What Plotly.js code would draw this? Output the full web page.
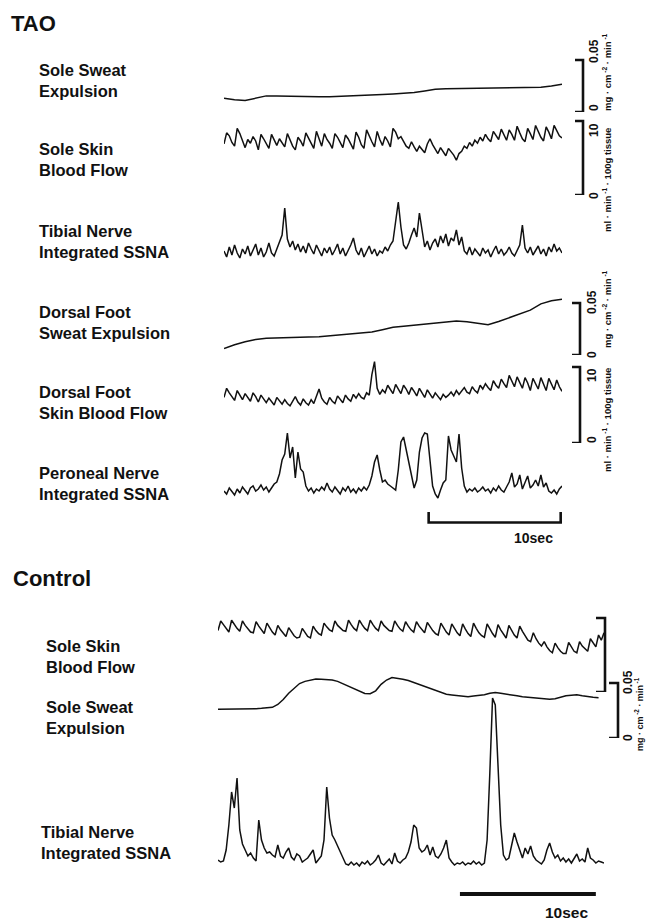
<!DOCTYPE html>
<html><head><meta charset="utf-8">
<script src="https://cdn.plot.ly/plotly-3.0.1.min.js"></script>
<style>html,body{margin:0;padding:0;background:#fff;}#chart{width:646px;height:920px;}</style>
</head><body><div id="chart"></div>
<script>
// ---------- DATA ----------
// sampling steps (s)
const taoFastStep = 0.2, taoSlowStep = 0.8, ctlFastStep = 0.2, ctlSlowStep = 0.4;

// TAO: sole sweat expulsion (mg·cm-2·min-1)
const taoSoleSweat = [0.0132,0.0117,0.0110,0.0130,0.0155,0.0154,0.0151,0.0149,0.0148,0.0147,
0.0147,0.0150,0.0154,0.0159,0.0163,0.0168,0.0173,0.0180,0.0187,0.0202,
0.0218,0.0223,0.0225,0.0226,0.0227,0.0227,0.0228,0.0229,0.0231,0.0235,
0.0238,0.0250,0.0266];
// TAO: sole skin blood flow (ml·min-1·100g tissue)
const taoSoleSBF = [6.9,8.4,8.0,7.1,6.6,9.0,8.3,7.4,6.4,7.5,
7.0,7.9,7.3,6.1,8.2,7.6,6.9,6.3,8.2,7.5,
6.7,7.6,7.1,6.5,8.3,7.4,6.6,6.1,7.8,7.3,
6.6,8.4,7.7,6.9,6.3,8.6,7.7,6.6,8.3,7.5,
7.0,6.3,8.3,7.8,7.1,6.4,8.1,7.6,6.9,6.2,
8.5,7.8,6.8,6.3,8.8,7.9,7.2,6.5,8.6,7.5,
6.7,7.9,7.3,6.5,9.0,8.5,7.6,7.9,7.2,6.6,
6.3,7.2,6.5,5.9,6.6,6.1,5.7,6.9,7.6,6.8,
6.2,5.6,6.4,5.8,5.3,6.3,5.9,5.4,4.7,5.6,
5.9,6.6,6.3,7.1,6.6,7.4,7.0,7.8,7.3,8.2,
7.6,7.2,8.6,8.0,7.5,8.9,8.1,7.4,8.8,8.2,
7.4,9.3,8.4,7.6,7.2,9.0,8.3,7.5,9.4,8.6,
7.8,7.3,9.2,8.5,7.6,9.4,8.7,8.0,7.7];
// TAO: tibial nerve integrated SSNA (a.u.)
const taoTibialSSNA = [14,8,18,10,20,12,7,16,11,19,
9,15,21,10,17,8,13,22,12,9,
16,24,30,57,26,18,24,15,21,13,
19,12,22,16,11,20,14,9,17,12,
18,10,15,21,11,17,9,14,20,27,
15,10,17,8,13,19,11,16,9,14,
12,18,14,20,24,42,63,38,20,16,
22,30,37,28,52,35,18,24,15,22,
26,18,29,22,31,19,27,24,35,20,
28,14,11,18,10,16,13,9,17,12,
15,8,14,19,11,16,10,13,18,12,
9,15,20,40,17,12,18,10,14,19,
11,16,9,18,13,21,14,17,12];
// TAO: dorsal foot sweat expulsion (mg·cm-2·min-1)
const taoDorsalSweat = [0.0062,0.0099,0.0128,0.0149,0.0162,0.0163,0.0166,0.0169,0.0172,0.0176,
0.0185,0.0193,0.0203,0.0212,0.0222,0.0243,0.0266,0.0276,0.0286,0.0299,
0.0313,0.0323,0.0327,0.0320,0.0303,0.0291,0.0322,0.0360,0.0391,0.0431,
0.0492,0.0521,0.0536];
// TAO: dorsal foot skin blood flow (ml·min-1·100g tissue)
const taoDorsalSBF = [6.0,7.2,6.6,6.1,5.6,6.9,6.3,5.7,6.5,6.0,
5.5,6.6,6.1,5.4,6.3,5.8,5.3,5.9,5.4,5.0,
6.0,5.5,5.1,5.7,5.2,4.9,5.6,6.1,5.4,5.0,
5.8,5.3,5.0,5.7,5.2,6.2,7.1,5.9,5.4,5.1,
6.0,5.5,5.2,6.2,5.7,5.3,6.3,5.8,5.5,6.4,
5.9,6.5,6.0,5.8,6.6,6.3,9.0,10.7,7.2,6.4,
7.0,6.6,7.6,7.1,6.5,7.7,7.0,6.5,7.6,7.1,
6.4,7.3,6.8,6.2,7.2,6.6,6.0,7.0,6.5,5.9,
6.6,6.1,5.7,6.4,6.0,6.3,6.7,6.2,6.9,6.4,
6.8,7.3,6.7,6.5,7.4,6.9,6.6,7.6,7.1,7.8,
7.3,6.9,8.2,7.6,7.2,8.4,7.8,7.3,8.9,8.1,
7.4,8.7,8.0,7.2,8.6,7.9,6.9,8.5,7.8,7.1,
8.6,7.7,6.9,8.5,7.8,7.0,8.3,7.4,6.8];
// TAO: peroneal nerve integrated SSNA (a.u.)
const taoPeronealSSNA = [9,6,12,8,5,11,7,13,9,6,
12,14,9,11,15,10,13,8,12,16,
18,26,40,46,67,42,53,22,48,31,
28,14,9,12,7,11,9,13,10,17,
11,8,13,10,6,12,9,14,8,11,
7,12,9,13,10,15,24,38,45,30,
18,20,16,14,12,10,30,58,63,50,
36,22,12,20,48,62,67,66,38,14,
6,2,10,17,20,64,50,44,38,66,
32,14,8,11,9,12,8,10,13,9,
11,7,12,9,14,10,8,13,18,27,
13,16,25,11,18,24,12,15,20,14,
25,13,17,9,7,10,6,11,14];

// Control: sole skin blood flow (ml·min-1·100g tissue)
const ctlSoleSBF = [8.3,9.6,9.1,8.6,8.1,9.7,9.1,8.6,8.2,9.6,
9.0,8.5,8.1,8.0,9.5,8.9,8.4,7.9,9.3,8.7,
8.1,7.7,9.0,8.4,7.9,7.5,8.7,8.1,7.6,7.3,
7.4,8.6,8.0,7.5,7.3,8.9,8.3,7.9,7.7,9.3,
8.8,8.4,8.2,9.6,9.0,8.6,8.3,8.2,9.7,9.1,
8.6,8.3,9.7,9.1,8.6,8.3,9.7,9.1,8.6,8.3,
9.6,9.0,8.6,8.3,8.2,9.6,9.0,8.5,8.2,9.5,
8.9,8.4,8.1,9.5,8.9,8.4,8.0,9.4,8.8,8.3,
7.9,7.7,9.3,8.7,8.1,7.7,9.2,8.6,8.0,7.6,
9.2,8.5,7.9,7.5,9.3,8.6,8.0,7.6,7.4,9.2,
8.5,7.9,7.4,9.1,8.4,7.8,7.3,9.0,8.3,7.7,
7.3,8.9,8.2,7.5,7.0,6.8,8.0,7.2,6.6,6.2,
6.8,6.1,5.6,5.3,6.6,6.0,5.5,5.2,5.2,6.7,
6.0,5.5,5.3,6.8,6.2,5.8,5.5,7.2,6.6,6.1,
7.7,7.0,8.0];
// Control: sole sweat expulsion (mg·cm-2·min-1)
const ctlSoleSweat = [0.0261,0.0261,0.0262,0.0263,0.0263,0.0264,0.0264,0.0267,0.0270,0.0273,
0.0279,0.0305,0.0350,0.0407,0.0453,0.0495,0.0515,0.0529,0.0536,0.0535,
0.0533,0.0528,0.0515,0.0492,0.0471,0.0450,0.0424,0.0405,0.0402,0.0429,
0.0488,0.0527,0.0550,0.0545,0.0534,0.0522,0.0505,0.0485,0.0467,0.0450,
0.0433,0.0414,0.0397,0.0392,0.0385,0.0380,0.0376,0.0382,0.0387,0.0394,
0.0407,0.0413,0.0406,0.0400,0.0393,0.0384,0.0374,0.0369,0.0364,0.0359,
0.0354,0.0352,0.0356,0.0369,0.0384,0.0389,0.0393,0.0384,0.0375,0.0371,
0.0367];
// Control: tibial nerve integrated SSNA (a.u.)
const ctlTibialSSNA = [10,8,9,20,45,78,62,92,40,26,
20,14,17,12,9,50,30,22,17,18,
15,13,25,14,12,18,22,13,10,16,
14,8,10,12,16,20,7,10,14,30,
83,52,35,30,24,18,12,6,5,8,
5,7,4,8,6,9,5,7,10,15,
7,5,8,11,6,17,9,7,10,12,
18,28,45,42,22,18,20,25,15,23,
14,12,16,22,30,12,8,5,7,6,
8,5,7,6,9,6,8,5,7,30,
97,172,165,97,45,15,10,12,24,37,
28,19,12,22,16,24,14,10,8,6,
10,20,27,18,12,15,9,12,8,11,
7,12,16,9,11,8,22,12,10,7,
9,8,7];

// scale-bar values and time bars
const sweatScale = [0, 0.05];      // mg·cm-2·min-1
const sbfScale = [0, 10];          // ml·min-1·100g tissue
const taoTimeBar = [15.5, 25.5];   // s
const ctlTimeBar = [17.8, 27.8];   // s
const labelsTAO = ["Sole Sweat<br>Expulsion","Sole Skin<br>Blood Flow","Tibial Nerve<br>Integrated SSNA",
  "Dorsal Foot<br>Sweat Expulsion","Dorsal Foot<br>Skin Blood Flow","Peroneal Nerve<br>Integrated SSNA"];
const labelsCtl = ["Sole Skin<br>Blood Flow","Sole Sweat<br>Expulsion","Tibial Nerve<br>Integrated SSNA"];

// ---------- LAYOUT HELPERS ----------
const W = 646, H = 920;
const PX = p => p / W;
const PY = p => 1 - p / H;
const dom = (top, bottom) => [PY(bottom), PY(top)];
const INK = '#111';
const FONT = 'Liberation Sans, Arial, Helvetica, sans-serif';

function tr(y, xa, ya, step) {
  return {type:'scatter', mode:'lines', x0:0, dx:step, y:y, xaxis:xa, yaxis:ya,
          line:{color:INK, width:1.5}, hoverinfo:'skip', showlegend:false};
}
const data = [
  tr(taoSoleSweat,'x','y',taoSlowStep),
  tr(taoSoleSBF,'x','y2',taoFastStep),
  tr(taoTibialSSNA,'x','y3',taoFastStep),
  tr(taoDorsalSweat,'x','y4',taoSlowStep),
  tr(taoDorsalSBF,'x','y5',taoFastStep),
  tr(taoPeronealSSNA,'x','y6',taoFastStep),
  tr(ctlSoleSBF,'x2','y7',ctlFastStep),
  tr(ctlSoleSweat,'x2','y8',ctlSlowStep),
  tr(ctlTibialSSNA,'x2','y9',ctlFastStep)
];

const hid = (o) => Object.assign({visible:false, fixedrange:true, showgrid:false, zeroline:false}, o);

const layout = {
  width:W, height:H, margin:{l:0,r:0,t:0,b:0}, showlegend:false,
  paper_bgcolor:'#fff', plot_bgcolor:'rgba(0,0,0,0)',
  font:{family:FONT, color:INK},
  xaxis: hid({domain:[PX(224),PX(562)], range:[0,25.6], anchor:'y'}),
  xaxis2: hid({domain:[PX(218),PX(604)], range:[0,28.4], anchor:'y7'}),
  yaxis:  hid({domain:dom(49.6,112), range:[0,0.06], anchor:'x'}),
  yaxis2: hid({domain:dom(113.6,195), range:[0,11], anchor:'x'}),
  yaxis3: hid({domain:dom(195,265), range:[0,70], anchor:'x'}),
  yaxis4: hid({domain:dom(287.4,355), range:[0,0.065], anchor:'x'}),
  yaxis5: hid({domain:dom(355.6,443), range:[0,11.5], anchor:'x'}),
  yaxis6: hid({domain:dom(425,500), range:[0,75], anchor:'x'}),
  yaxis7: hid({domain:dom(610.6,692), range:[0,11], anchor:'x2'}),
  yaxis8: hid({domain:dom(672,738), range:[0,0.06], anchor:'x2'}),
  yaxis9: hid({domain:dom(690,870), range:[0,180], anchor:'x2'}),
  shapes:[], annotations:[]
};

function bracket(yref, barPx, tickPx, v) {
  const xb = PX(barPx), xt = PX(tickPx);
  layout.shapes.push({type:'path', xref:'paper', yref:yref,
    path:`M${xt},${v[1]} L${xb},${v[1]} L${xb},${v[0]} L${xt},${v[0]}`,
    line:{color:INK, width:2.6}});
}
bracket('y', 583, 575, sweatScale);
bracket('y2', 583, 575, sbfScale);
bracket('y4', 580, 572, sweatScale);
bracket('y5', 580, 572, sbfScale);
bracket('y7', 605, 596, sbfScale);
bracket('y8', 618, 609, sweatScale);

// time bars
layout.shapes.push({type:'path', xref:'x', yref:'paper',
  path:`M${taoTimeBar[0]},${PY(512)} L${taoTimeBar[0]},${PY(522.5)} L${taoTimeBar[1]},${PY(522.5)} L${taoTimeBar[1]},${PY(512)}`,
  line:{color:INK, width:2.6}});
layout.shapes.push({type:'line', xref:'x2', yref:'paper', x0:ctlTimeBar[0], x1:ctlTimeBar[1],
  y0:PY(894), y1:PY(894), line:{color:INK, width:4}});

function txt(text, xpx, ypx, size, opts) {
  layout.annotations.push(Object.assign({text:text, x:PX(xpx), y:PY(ypx), xref:'paper', yref:'paper',
    showarrow:false, xanchor:'left', yanchor:'middle', align:'left',
    font:{family:FONT, size:size, color:INK, weight:700}}, opts||{}));
}
txt('TAO', 9, 23, 22);
txt('Control', 11, 578, 22);
const taoLabelY = [80.5, 159.5, 241, 322, 402, 484];
labelsTAO.forEach((t,i) => txt(t, 36.5, taoLabelY[i], 16.5));
const ctlLabelX = [44, 44, 39], ctlLabelY = [656, 717.5, 842];
labelsCtl.forEach((t,i) => txt(t, ctlLabelX[i], ctlLabelY[i], 16.5));
txt('10sec', 533.5, 538, 14, {xanchor:'center'});
txt('10sec', 566.5, 912.5, 15.5, {xanchor:'center'});

// rotated scale labels
function rot(text, xpx, ypx, size) {
  txt(text, xpx, ypx, size, {textangle:-90, xanchor:'center', yanchor:'middle'});
}
const sweatUnit = 'mg · cm<sup> -2</sup> · min<sup> -1</sup>';
const sbfUnit = 'ml · min<sup> -1</sup> · 100g tissue';
rot(String(sweatScale[1]), 594, 51, 12);
rot(String(sweatScale[0]), 594, 108, 12);
rot(sweatUnit, 607, 72, 9.5);
rot(String(sbfScale[1]), 594, 130, 12);
rot(String(sbfScale[0]), 594, 196, 12);
rot(sbfUnit, 607, 180, 9.5);
rot(String(sweatScale[1]), 592, 302, 12);
rot(String(sweatScale[0]), 592, 355, 12);
rot(sweatUnit, 607, 309, 9.5);
rot(String(sbfScale[1]), 592, 375, 12);
rot(String(sbfScale[0]), 592, 440, 12);
rot(sbfUnit, 607, 420, 9.5);
rot(String(sweatScale[1]), 628, 682, 12);
rot(String(sweatScale[0]), 628, 738, 12);
rot(sweatUnit, 639, 714, 9);

Plotly.newPlot('chart', data, layout, {staticPlot:true, displayModeBar:false});
</script></body></html>
